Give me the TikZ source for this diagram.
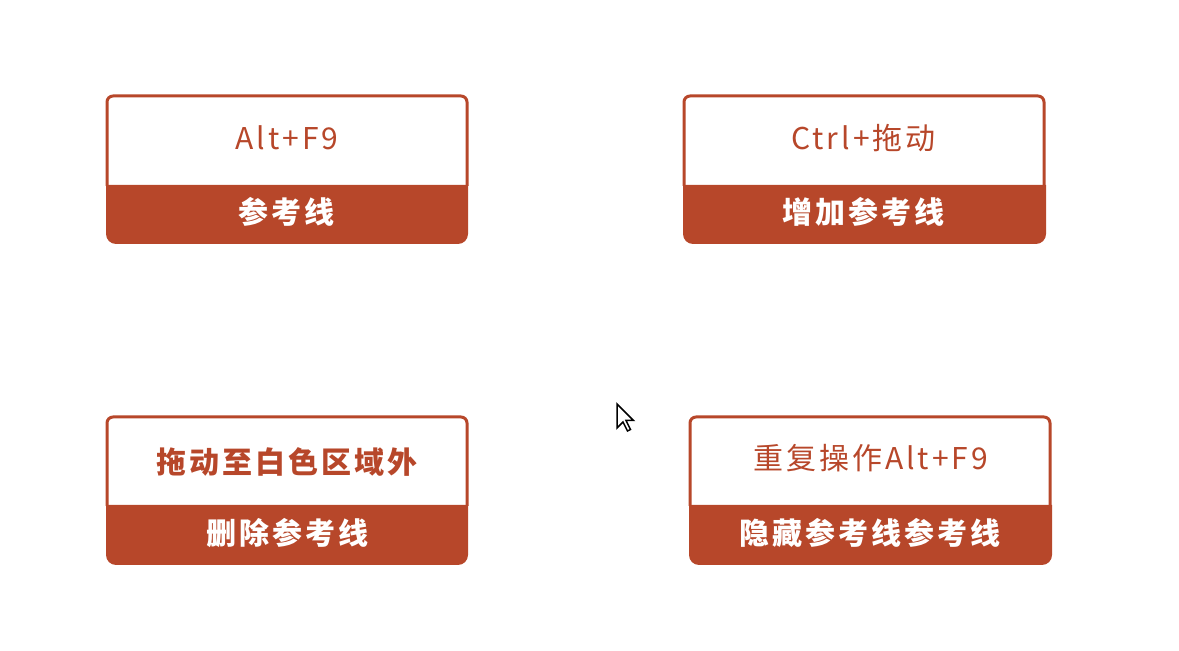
\documentclass[tikz,border=0pt]{standalone}
\usepackage{fontspec}
\setmainfont{Noto Sans CJK SC}[LetterSpace=10]
\usepackage{tikz}
\usetikzlibrary{positioning}
\definecolor{brick}{HTML}{B7472A}

\begin{document}
\begin{tikzpicture}[x=0.5pt,y=-0.5pt,
    frame/.style={draw=brick,line width=1.5pt,rounded corners=3pt},
    band/.style={fill=brick},
    key/.style={text=brick,font=\fontsize{15}{17}\selectfont,inner sep=0pt},
    keybold/.style={key,font=\fontsize{15}{17}\selectfont\bfseries},
    label/.style={text=white,font=\fontsize{15}{17}\selectfont\bfseries,inner sep=0pt}]
  \useasboundingbox (0,0) rectangle (1179,651);

  % boxes
  \draw[frame] (107,186) -- (107,96) -- (467,96) -- (467,186);
  \fill[band] (106,185) [rounded corners=5pt] -- (106,244) -- (468,244) [sharp corners] -- (468,185) -- cycle;
  \draw[frame] (684,186) -- (684,96) -- (1044,96) -- (1044,186);
  \fill[band] (683,185) [rounded corners=5pt] -- (683,244) -- (1046,244) [sharp corners] -- (1046,185) -- cycle;
  \draw[frame] (107,506) -- (107,417) -- (467,417) -- (467,506);
  \fill[band] (106,505) [rounded corners=5pt] -- (106,565) -- (468,565) [sharp corners] -- (468,505) -- cycle;
  \draw[frame] (690,506) -- (690,417) -- (1050,417) -- (1050,506);
  \fill[band] (689,505) [rounded corners=5pt] -- (689,565) -- (1052,565) [sharp corners] -- (1052,505) -- cycle;

  \path
  (287,138) node[key](altf9) {Alt+F9}
  (286.5,212) node[label](ckx) {参考线}
  (863.5,138) node[key](ctrl) {Ctrl+拖动}
  (863.5,212) node[label](addckx) {增加参考线}
  (286.5,462) node[keybold](drag) {拖动至白色区域外}
  (287,533) node[label](delckx) {删除参考线}
  (870.5,458) node[key](again) {重复操作Alt+F9}
  (870,533) node[label](hideckx) {隐藏参考线参考线}
  ;

  % cursor
  \draw[fill=white,line width=0.75pt,line join=miter] (617,404) -- ++(0,24) -- ++(6,-6) -- ++(4.5,9)
    -- ++(3,-1.5) -- ++(-4.5,-9) -- ++(7.5,0) -- cycle;
\end{tikzpicture}
\end{document}
